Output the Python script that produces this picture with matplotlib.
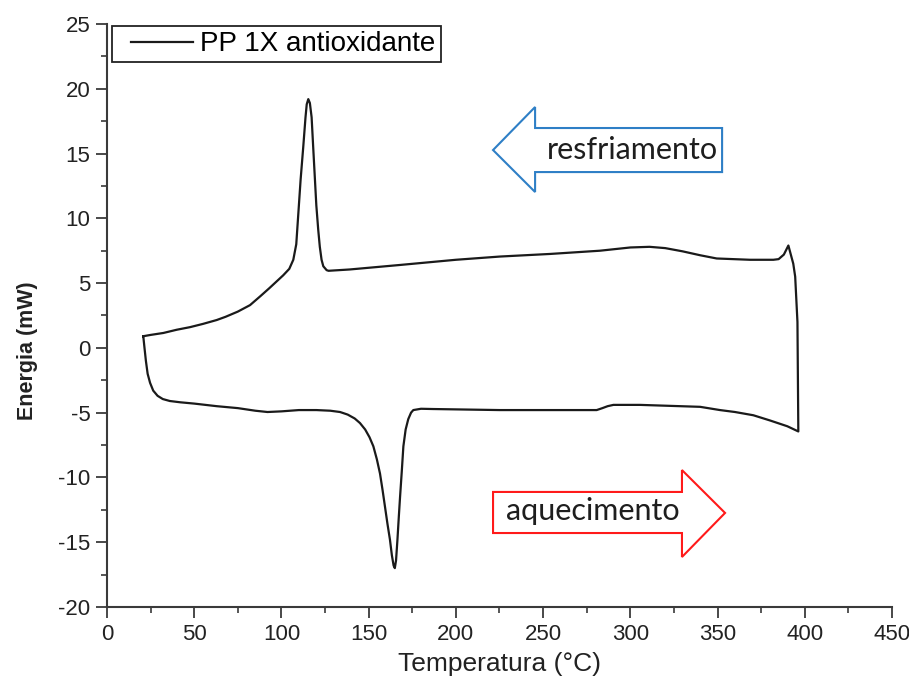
import matplotlib
matplotlib.use("Agg")
import matplotlib.pyplot as plt
from matplotlib.patches import Polygon
from matplotlib.lines import Line2D
from matplotlib.legend_handler import HandlerLine2D
from matplotlib.ticker import MultipleLocator

plt.rcParams["axes.unicode_minus"] = False

# DSC loop: heating run followed by the cooling run (temperature in °C, heat flow in mW)
temperatura = [
    20.8, 21.5, 22.3, 23.3, 24.7, 26.5, 29.0, 32.0, 36.0, 42.0, 50.0, 62.9,
    75.0, 85.0, 92.0, 100.0, 110.0, 120.0, 128.0, 133.6, 138.0, 142.0, 145.0,
    148.0, 150.5, 152.7, 154.7, 156.5, 158.0, 159.4, 160.8, 162.2, 163.3, 164.3,
    165.0, 165.7, 166.5, 167.3, 168.0, 169.0, 169.9, 171.2, 172.7, 174.3, 175.6,
    180.0, 186.9, 225.0, 280.7, 284.0, 287.0, 290.3, 305.6, 340.0, 351.4, 360.0,
    370.5, 380.0, 390.0, 396.3,
    395.8, 394.5, 393.4, 390.6, 388.0, 385.0, 382.0, 368.6, 349.5, 340.0, 330.0,
    320.0, 311.0, 300.0, 282.6, 254.0, 225.3, 200.0, 168.0, 139.0, 127.0, 125.9,
    124.0, 123.0, 122.0, 121.1, 120.0, 119.2, 118.2, 117.3, 116.3, 115.4, 114.5,
    113.8, 112.5, 111.0, 109.7, 108.5, 106.8, 104.5, 101.0, 97.0, 93.0, 88.0,
    82.0, 75.0, 68.0, 62.9, 55.0, 47.6, 40.0, 32.3, 25.0, 20.8,
]
energia = [
    0.9, 0.0, -1.0, -2.0, -2.7, -3.3, -3.7, -3.95, -4.1, -4.2, -4.3, -4.5,
    -4.65, -4.85, -4.95, -4.9, -4.8, -4.8, -4.85, -4.95, -5.15, -5.45, -5.8,
    -6.3, -6.9, -7.6, -8.6, -9.7, -11.0, -12.3, -13.6, -14.8, -16.0, -16.8,
    -17.0, -16.4, -14.8, -13.0, -11.5, -9.5, -7.6, -6.3, -5.5, -5.0, -4.8,
    -4.7, -4.72, -4.8, -4.8, -4.65, -4.5, -4.4, -4.4, -4.55, -4.8, -4.95,
    -5.2, -5.6, -6.05, -6.45,
    2.0, 5.5, 6.5, 7.9, 7.2, 6.85, 6.8, 6.8, 6.9, 7.15, 7.45,
    7.7, 7.8, 7.75, 7.5, 7.25, 7.05, 6.8, 6.4, 6.05, 5.95, 6.0,
    6.3, 6.8, 7.8, 9.1, 11.0, 13.0, 15.5, 17.8, 18.9, 19.2, 18.8,
    17.8, 15.5, 13.0, 10.4, 8.0, 6.8, 6.1, 5.6, 5.1, 4.6, 4.0,
    3.3, 2.8, 2.4, 2.15, 1.85, 1.6, 1.4, 1.15, 1.0, 0.9,
]
serie = "PP 1X antioxidante"

x_ticks = [0, 50, 100, 150, 200, 250, 300, 350, 400, 450]
y_ticks = [-20, -15, -10, -5, 0, 5, 10, 15, 20, 25]

fig = plt.figure(figsize=(9.09, 6.93), dpi=100)
ax = fig.add_axes([0.1177, 0.1241, 0.8636, 0.8413])

ax.plot(temperatura, energia, color="#1a1a1a", lw=1.6, label=serie)

ax.set_xlim(0, 450)
ax.set_ylim(-20, 25)
ax.set_xticks(x_ticks)
ax.set_yticks(y_ticks)
ax.xaxis.set_minor_locator(MultipleLocator(25))
ax.yaxis.set_minor_locator(MultipleLocator(2.5))

for side in ("top", "right"):
    ax.spines[side].set_visible(False)
for side in ("left", "bottom"):
    ax.spines[side].set_color("#3a3a3a")
    ax.spines[side].set_linewidth(1.5)

ax.tick_params(which="major", direction="out", length=8, width=1.3,
               color="#3a3a3a", labelsize=16, labelcolor="#222222", pad=4)
ax.tick_params(which="minor", direction="out", length=4, width=1.2,
               color="#3a3a3a")
for lbl in ax.get_xticklabels() + ax.get_yticklabels():
    lbl.set_fontfamily(["Liberation Sans"])

ax.set_xlabel("Temperatura (°C)", fontsize=19, color="#222222",
              fontfamily=["Liberation Sans"])
ax.xaxis.set_label_coords(0.5, -0.078)
ax.set_ylabel("Energia (mW)", fontsize=15.5, fontweight="bold", color="#222222",
              fontfamily=["Liberation Sans"])
ax.yaxis.set_label_coords(-0.088, 0.44)

leg = ax.legend(loc="upper left", bbox_to_anchor=(0.006, 0.996), frameon=True,
                fancybox=False, edgecolor="#222222", framealpha=1,
                prop={"family": "Liberation Sans", "size": 20},
                handlelength=2.76, handletextpad=0.25, borderpad=0.18,
                borderaxespad=0.0,
                handler_map={Line2D: HandlerLine2D(xpad=0.53)})
leg.get_frame().set_linewidth(1.3)

# Direction arrows: cooling (blue, pointing left) and heating (red, pointing right)
cool_arrow = [(221.3, 15.27), (245.4, 18.59), (245.4, 16.97), (352.6, 16.97),
              (352.6, 13.57), (245.4, 13.57), (245.4, 12.03)]
heat_arrow = [(221.3, -11.12), (329.6, -11.12), (329.6, -9.43), (354.3, -12.74),
              (329.6, -16.14), (329.6, -14.29), (221.3, -14.29)]
ax.add_patch(Polygon(cool_arrow, closed=True, facecolor="white",
                     edgecolor="#2e7fc6", lw=1.5, zorder=3))
ax.add_patch(Polygon(heat_arrow, closed=True, facecolor="white",
                     edgecolor="#ff1a1a", lw=1.5, zorder=3))
ax.text(301, 15.27, "resfriamento", fontsize=22, fontfamily=["Lato"],
        color="#1e1e1e", ha="center", va="center", zorder=4)
ax.text(278.6, -12.6, "aquecimento", fontsize=22, fontfamily=["Lato"],
        color="#1e1e1e", ha="center", va="center", zorder=4)

fig.savefig("out.png", dpi=100, facecolor="white")
